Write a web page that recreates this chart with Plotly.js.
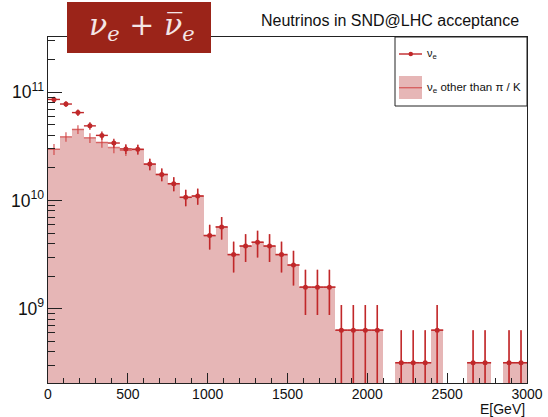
<!DOCTYPE html>
<html>
<head>
<meta charset="utf-8">
<script src="https://cdn.plot.ly/plotly-3.0.1.min.js"></script>
<style>html,body{margin:0;padding:0;background:#fff;}#chart{width:548px;height:417px;}</style>
</head>
<body>
<div id="chart"></div>
<script>
// Bin centres (GeV), bin width 75 GeV
const energyCenters = [37.5,112.5,187.5,262.5,337.5,412.5,487.5,562.5,637.5,712.5,
  787.5,862.5,937.5,1012.5,1087.5,1162.5,1237.5,1312.5,1387.5,1462.5,
  1537.5,1612.5,1687.5,1762.5,1837.5,1912.5,1987.5,2062.5,2137.5,2212.5,
  2287.5,2362.5,2437.5,2512.5,2587.5,2662.5,2737.5,2812.5,2887.5,2962.5];
const binHalfWidth = 37.5;

// all nu_e
const allNuE = [8.6e10,7.8e10,6.5e10,4.9e10,4.0e10,3.4e10,3.0e10,2.97e10,2.17e10,1.74e10,
  1.43e10,1.07e10,1.10e10,4.74e9,5.69e9,3.16e9,3.79e9,4.11e9,3.79e9,3.16e9,
  2.53e9,1.58e9,1.58e9,1.58e9,6.32e8,6.32e8,6.32e8,6.32e8,0,3.16e8,
  3.16e8,3.16e8,6.32e8,0,0,3.16e8,3.16e8,0,3.16e8,3.16e8];
const allNuEErr = [5.2e9,4.97e9,4.53e9,3.93e9,3.56e9,3.28e9,3.08e9,3.06e9,2.62e9,2.35e9,
  2.13e9,1.84e9,1.86e9,1.22e9,1.34e9,1.0e9,1.09e9,1.14e9,1.09e9,1.0e9,
  8.94e8,7.07e8,7.07e8,7.07e8,4.47e8,4.47e8,4.47e8,4.47e8,0,3.16e8,
  3.16e8,3.16e8,4.47e8,0,0,3.16e8,3.16e8,0,3.16e8,3.16e8];

// nu_e other than pi / K
const otherNuE = [2.98e10,3.88e10,4.54e10,3.8e10,3.44e10,3.09e10,2.92e10,2.97e10,2.17e10,1.74e10,
  1.43e10,1.07e10,1.10e10,4.74e9,5.69e9,3.16e9,3.79e9,4.11e9,3.79e9,3.16e9,
  2.53e9,1.58e9,1.58e9,1.58e9,6.32e8,6.32e8,6.32e8,6.32e8,0,3.16e8,
  3.16e8,3.16e8,6.32e8,0,0,3.16e8,3.16e8,0,3.16e8,3.16e8];
const otherNuEErr = [3.45e9,3.94e9,4.26e9,3.9e9,3.7e9,3.5e9,3.4e9,3.06e9,2.62e9,2.35e9,
  2.13e9,1.84e9,1.86e9,1.22e9,1.34e9,1.0e9,1.09e9,1.14e9,1.09e9,1.0e9,
  8.94e8,7.07e8,7.07e8,7.07e8,4.47e8,4.47e8,4.47e8,4.47e8,0,3.16e8,
  3.16e8,3.16e8,4.47e8,0,0,3.16e8,3.16e8,0,3.16e8,3.16e8];

const xTickVals = [0,500,1000,1500,2000,2500,3000];

const nz = a => a.map(v => v > 0 ? v : null);

const darkRed = '#c0282a';
const fillPink = '#e6b6b6';
const crossRed = 'rgba(208,62,62,0.7)';

const traces = [
  {
    type: 'bar', x: energyCenters, y: nz(otherNuE), width: 75,
    marker: {color: fillPink, line: {width: 0}},
    hoverinfo: 'skip', showlegend: false
  },
  {
    type: 'scatter', mode: 'markers', x: energyCenters, y: nz(otherNuE),
    marker: {size: 1, color: crossRed, opacity: 0},
    error_x: {type: 'constant', value: binHalfWidth, width: 0, thickness: 1.5, color: crossRed},
    error_y: {type: 'data', array: otherNuEErr, width: 0, thickness: 1.5, color: crossRed},
    showlegend: false
  },
  {
    type: 'scatter', mode: 'markers', x: energyCenters, y: nz(allNuE),
    marker: {size: 5, color: darkRed},
    error_x: {type: 'constant', value: binHalfWidth, width: 0, thickness: 1.4, color: darkRed},
    error_y: {type: 'data', array: allNuEErr, width: 0, thickness: 1.4, color: darkRed},
    showlegend: false
  }
];

const W = 548, H = 417, L = 48, R = 527, T = 37, B = 383;
const px = x => (x - L) / (R - L);
const py = y => (B - y) / (B - T);

const font = 'Liberation Sans, Arial, Helvetica, sans-serif';

const layout = {
  width: W, height: H,
  margin: {l: L, r: W - R, t: T, b: H - B, pad: 0},
  paper_bgcolor: '#fff', plot_bgcolor: '#fff',
  bargap: 0,
  showlegend: false,
  font: {family: font, color: '#111'},
  xaxis: {
    range: [0, 3000], tickvals: xTickVals, ticks: 'inside', ticklen: 10, tickcolor: '#222',
    ticklabelstandoff: -2,
    minor: {dtick: 100, ticks: 'inside', ticklen: 5, tickcolor: '#222', showgrid: false},
    showline: true, mirror: true, linecolor: '#222', linewidth: 1,
    showgrid: false, zeroline: false, tickfont: {size: 14, family: font, color: '#111'}
  },
  yaxis: {
    type: 'log', range: [8.312, 11.512], dtick: 1, exponentformat: 'power',
    ticks: 'inside', ticklen: 14, tickcolor: '#222',
    minor: {dtick: 'D1', ticks: 'inside', ticklen: 7, tickcolor: '#222', showgrid: false},
    showline: true, mirror: true, linecolor: '#222', linewidth: 1,
    showgrid: false, zeroline: false, tickfont: {size: 14, family: font, color: '#111'}
  },
  shapes: [
    // title box
    {type: 'rect', xref: 'paper', yref: 'paper', x0: px(67), x1: px(211), y0: py(53), y1: py(2),
     fillcolor: '#9b2419', line: {width: 0}, layer: 'above'},
    // legend box
    {type: 'rect', xref: 'paper', yref: 'paper', x0: px(395), x1: px(527), y0: py(106), y1: py(37),
     fillcolor: '#fff', line: {width: 1, color: '#222'}, layer: 'above'},
    // legend entry 1
    {type: 'line', xref: 'paper', yref: 'paper', x0: px(399), x1: px(422), y0: py(54), y1: py(54),
     line: {width: 1.4, color: darkRed}, layer: 'above'},
    {type: 'circle', xref: 'paper', yref: 'paper', x0: px(408.5), x1: px(413), y0: py(56.2), y1: py(51.8),
     fillcolor: darkRed, line: {width: 0}, layer: 'above'},
    // legend entry 2
    {type: 'rect', xref: 'paper', yref: 'paper', x0: px(399), x1: px(422), y0: py(99), y1: py(76),
     fillcolor: fillPink, line: {width: 0}, layer: 'above'},
    {type: 'line', xref: 'paper', yref: 'paper', x0: px(399), x1: px(422), y0: py(87.7), y1: py(87.7),
     line: {width: 1.4, color: crossRed}, layer: 'above'}
  ],
  annotations: [
    {xref: 'paper', yref: 'paper', x: px(521), y: py(20), xanchor: 'right', yanchor: 'middle',
     text: 'Neutrinos in SND@LHC acceptance', showarrow: false,
     font: {size: 16, family: font, color: '#111'}},
    {xref: 'paper', yref: 'paper', x: px(142), y: py(27), xanchor: 'center', yanchor: 'middle',
     text: '<i>ν<sub>e</sub></i> + <i>ν̅<sub>e</sub></i>', showarrow: false,
     font: {size: 30, family: 'DejaVu Serif, Liberation Serif, serif', color: '#f4e6e6'}},
    {xref: 'paper', yref: 'paper', x: px(425), y: py(54), xanchor: 'left', yanchor: 'middle',
     text: 'ν<sub>e</sub>', showarrow: false, font: {size: 11, family: font, color: '#111'}},
    {xref: 'paper', yref: 'paper', x: px(425), y: py(87.7), xanchor: 'left', yanchor: 'middle',
     text: 'ν<sub>e</sub> other than π / K', showarrow: false, font: {size: 11.5, family: font, color: '#111'}},
    {xref: 'paper', yref: 'paper', x: 1, y: 0, xanchor: 'right', yanchor: 'middle', yshift: -26,
     text: 'E[GeV]', showarrow: false, font: {size: 14, family: font, color: '#111'}}
  ]
};

Plotly.newPlot('chart', traces, layout, {displayModeBar: false, staticPlot: true});
</script>
</body>
</html>
